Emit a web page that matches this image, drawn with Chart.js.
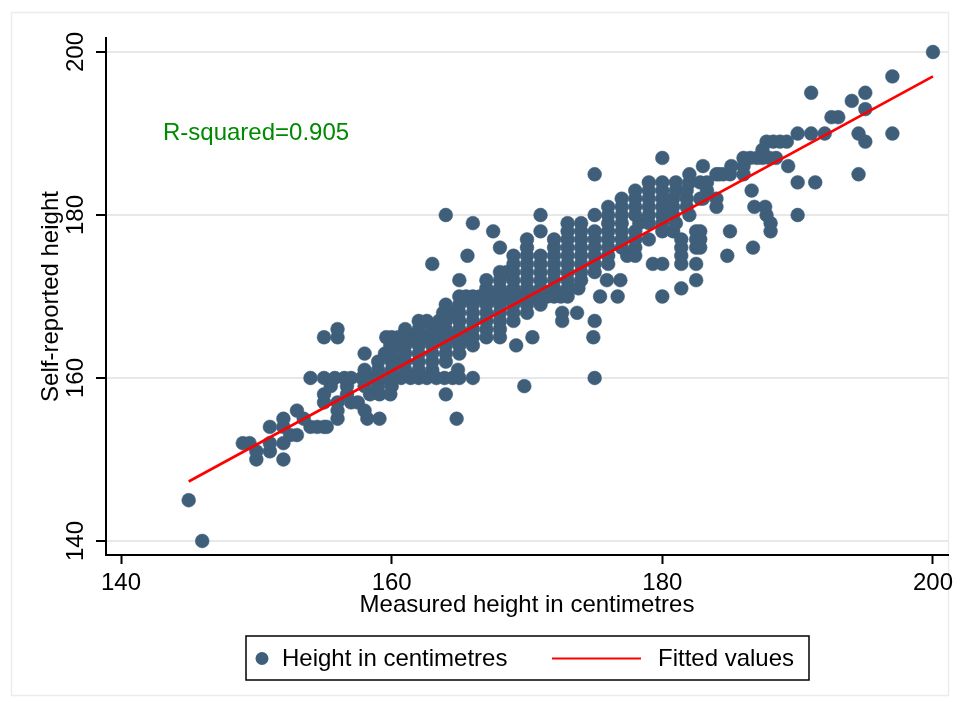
<!DOCTYPE html>
<html>
<head>
<meta charset="utf-8">
<title>Self-reported vs measured height</title>
<script src="https://cdn.jsdelivr.net/npm/chart.js@4.4.1/dist/chart.umd.min.js"></script>
<style>
  html, body { margin: 0; padding: 0; background: #fff; }
  #heightChart { display: block; }
</style>
</head>
<body>
<canvas id="heightChart" width="960" height="706"></canvas>
<script>
// self-reported heights (cm), and the measured heights found at each of them
const reportedLevels = [140, 145, 150, 151, 152, 153, 154, 155, 156, 157, 158, 159, 160, 161, 162, 163, 164, 165, 166, 167, 168, 169, 170, 171, 172, 173, 174, 175, 176, 177, 178, 179, 180, 181, 182, 183, 184, 185, 186, 187, 188, 189, 190, 192, 193, 194, 195, 197, 200];
const measuredAtLevel = [
    [146],
    [145],
    [150, 152],
    [150, 151],
    [149, 149.5, 151, 152],
    [152.5, 153],
    [151, 152, 154, 154.5, 155, 155.2],
    [152, 153.5, 156, 158.2, 159.1, 164.8],
    [153, 156, 158],
    [155, 156, 157, 157.5],
    [155, 156.7, 158.4, 159.1, 159.9, 164],
    [155.5, 156.7, 158, 159, 160, 169.8],
    [154, 155, 155.8, 156.5, 157, 157.8, 158.4, 159, 159.6, 160.2, 160.7, 161.4, 162, 162.6, 163.3, 163.9, 164.5, 165, 166, 175],
    [158, 159, 160, 161, 162, 163, 164.9],
    [159, 160, 160.5, 161, 162, 163, 164],
    [158, 159.5, 160, 161, 162, 163, 164, 165],
    [159.9, 160.5, 161, 162, 163, 164, 165, 166, 169.2],
    [155, 156, 159.6, 160, 160.5, 161, 161.5, 162, 162.5, 163, 163.5, 164, 164.5, 165, 165.5, 166, 167, 168, 170.4, 174.9],
    [156, 161, 162, 163, 164, 165, 166, 167, 168],
    [162, 162.6, 163.5, 164, 165, 166, 167, 168, 169, 172.6, 175],
    [163.8, 164.5, 165, 166, 167, 168, 169, 170, 172.6, 173.7],
    [164, 165, 166, 167, 168, 169, 170, 171],
    [165, 165.5, 166, 166.5, 167, 167.5, 168, 168.5, 169, 169.5, 170, 170.5, 171, 171.5, 172, 172.5, 173, 175.4, 176.7, 180],
    [167, 168, 169, 170, 171, 172, 173, 173.8, 181.4],
    [165, 167, 168, 169, 170, 171, 172, 173, 174, 175.9, 176.9, 182.5],
    [168, 168.5, 169, 170, 171, 172, 173, 174, 175],
    [163, 169, 170, 171, 172, 173, 174, 175, 176, 179.3, 180, 181.4, 182.5],
    [165.6, 169, 170, 171, 172, 173, 174, 175, 176, 177.4, 178, 181.4, 184.8],
    [168, 170, 172, 173, 174, 175, 176, 177, 178, 181.4, 182.5, 182.8, 186.7],
    [170, 172, 173, 174, 175, 176, 177, 178, 179, 181.4, 182.5, 182.8],
    [167.5, 171, 173, 174, 175, 176, 177, 178, 180, 180.8, 182.5, 182.8, 185, 188],
    [166, 173, 174, 176, 177, 178.3, 179, 180, 181, 188],
    [164, 171, 175, 176, 177, 178, 179, 180, 180.8, 182, 187.7, 190],
    [176, 177, 178, 179, 180, 180.8, 181.8, 184, 186.8, 187.6],
    [177, 178, 179, 180, 180.8, 181.8, 182.8, 183, 184],
    [178, 179, 180, 181, 181.8, 183.3, 186.6],
    [179, 180, 181, 182, 182.8, 183.3, 190, 191.3],
    [175, 182, 184, 184.2, 184.5, 185, 186, 194.5],
    [183, 185.1, 186, 189.3],
    [180, 186, 186.5, 187, 187.4, 187.9, 188.4],
    [187.4],
    [187.7, 188.2, 188.7, 189.2, 195],
    [190, 191, 192, 194.5, 197],
    [192.5, 193],
    [195],
    [194],
    [191, 195],
    [197],
    [200]
];
// fitted line end points (measured -> fitted self-report)
const fitMeasured = [145, 200];
const fitReported = [147.3, 197.0];
const xTicks = [140, 160, 180, 200];
const yTicks = [140, 160, 180, 200];
const rSquaredLabel = 'R-squared=0.905';

const FONT = "'Liberation Sans', Arial, sans-serif";
const markerColor = '#3e5e7a';
const lineColor = '#ff0000';

const scatterPoints = reportedLevels.flatMap((y, i) => measuredAtLevel[i].map(x => ({ x: x, y: y })));
const fitPoints = fitMeasured.map((x, i) => ({ x: x, y: fitReported[i] }));

const decorations = {
    id: 'decorations',
    beforeDraw(chart) {
        const ctx = chart.ctx;
        ctx.save();
        ctx.fillStyle = '#fff';
        ctx.fillRect(0, 0, chart.width, chart.height);
        ctx.strokeStyle = '#ececec';
        ctx.lineWidth = 1.5;
        ctx.strokeRect(11.5, 12.5, 937, 683);
        ctx.restore();
    },
    afterDraw(chart) {
        const ctx = chart.ctx;
        const xs = chart.scales.x, ys = chart.scales.y;
        ctx.save();
        // R-squared note
        ctx.font = '24px ' + FONT;
        ctx.fillStyle = '#008a00';
        ctx.textAlign = 'left';
        ctx.textBaseline = 'middle';
        ctx.fillText(rSquaredLabel, xs.getPixelForValue(143.1), ys.getPixelForValue(190));

        // legend box
        ctx.strokeStyle = '#000';
        ctx.lineWidth = 1.5;
        ctx.strokeRect(246, 636, 563, 44);
        ctx.fillStyle = markerColor;
        ctx.beginPath();
        ctx.arc(262, 658.5, 6.5, 0, Math.PI * 2);
        ctx.fill();
        ctx.fillStyle = '#000';
        ctx.fillText('Height in centimetres', 282, 659);
        ctx.strokeStyle = lineColor;
        ctx.lineWidth = 2.2;
        ctx.beginPath();
        ctx.moveTo(552, 658.5);
        ctx.lineTo(641, 658.5);
        ctx.stroke();
        ctx.fillText('Fitted values', 658, 659);
        ctx.restore();
    }
};

new Chart(document.getElementById('heightChart'), {
    type: 'scatter',
    data: {
        datasets: [
            {
                label: 'Fitted values', type: 'line', data: fitPoints, order: 0,
                borderColor: lineColor, borderWidth: 2.6, pointRadius: 0, fill: false, tension: 0
            },
            {
                label: 'Height in centimetres', data: scatterPoints, order: 1,
                backgroundColor: markerColor, borderColor: markerColor, borderWidth: 0.5, pointRadius: 6.9
            }
        ]
    },
    options: {
        responsive: false,
        animation: false,
        devicePixelRatio: 1,
        layout: { padding: { left: 0, right: 12, top: 38, bottom: 86 } },
        plugins: { legend: { display: false }, tooltip: { enabled: false } },
        scales: {
            x: {
                type: 'linear', min: 138.89, max: 201.11,
                afterBuildTicks: s => { s.ticks = xTicks.map(v => ({ value: v })); },
                afterFit: s => { s.height = 65; },
                border: { color: '#000', width: 2 },
                grid: { drawOnChartArea: false, tickColor: '#000', tickWidth: 2, tickLength: 9 },
                ticks: { color: '#000', font: { family: FONT, size: 24 }, padding: 5, callback: v => String(v) },
                title: { display: true, text: 'Measured height in centimetres', color: '#000', font: { family: FONT, size: 24 }, padding: { top: 0, bottom: 0 } }
            },
            y: {
                type: 'linear', min: 138.28, max: 201.72,
                afterBuildTicks: s => { s.ticks = yTicks.map(v => ({ value: v })); },
                afterFit: s => { s.width = 106; },
                border: { color: '#000', width: 2 },
                grid: { color: '#e8e8e8', lineWidth: 2, tickColor: '#000', tickWidth: 2, tickLength: 10 },
                ticks: { color: '#000', font: { family: FONT, size: 24 }, padding: 0, minRotation: 90, maxRotation: 90, crossAlign: 'center', callback: v => String(v) },
                title: { display: true, text: 'Self-reported height', color: '#000', font: { family: FONT, size: 24 }, padding: { top: 37, bottom: 0 } }
            }
        }
    },
    plugins: [decorations]
});
</script>
</body>
</html>
